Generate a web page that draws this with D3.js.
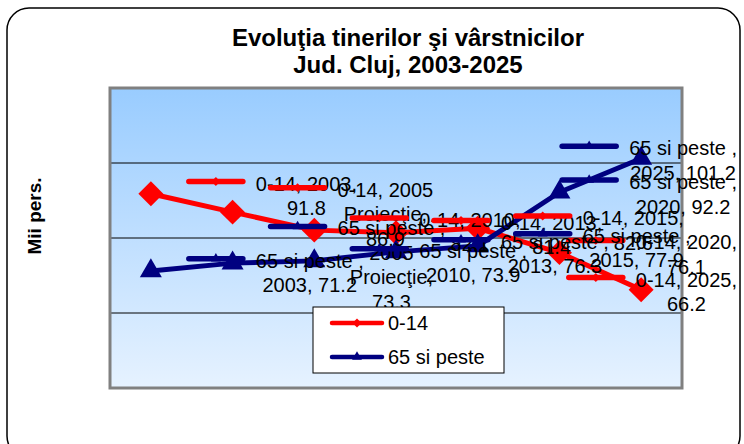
<!DOCTYPE html>
<html>
<head>
<meta charset="UTF-8">
<title>Evoluţia tinerilor şi vârstnicilor</title>
<script src="https://cdn.jsdelivr.net/npm/d3@7"></script>
<style>
  body { margin: 0; background: #fff; }
  svg { display: block; font-family: "Liberation Sans", Arial, sans-serif; }
  .lbl { font-size: 20px; fill: #000; }
  .titlu { font-size: 24px; font-weight: bold; fill: #000; }
</style>
</head>
<body>
<div id="graphe"></div>
<script>
// date (mii persoane)
var ani = ["2003", "2005 Proiecţie", "2010", "2013", "2015", "2020", "2025"];
var tineri = [91.8, 86.9, 82.1, 81.4, 82.6, 76.1, 66.2];
var varstnici = [71.2, 73.3, 73.9, 76.3, 77.9, 92.2, 101.2];
var yTicks = [40, 60, 80, 100, 120];

var serii = [
  {name: "0-14", values: tineri, color: "#ff0000", marker: "diamond"},
  {name: "65 si peste ", values: varstnici, color: "#000080", marker: "triangle"}
];

var width = 744, height = 444;
var plot = {left: 110, right: 682, top: 88, bottom: 388};

var svg = d3.select("#graphe").append("svg")
    .attr("width", width)
    .attr("height", height);

var defs = svg.append("defs");
var grad = defs.append("linearGradient")
    .attr("id", "fundal")
    .attr("x1", 0).attr("y1", 0).attr("x2", 0).attr("y2", 1);
grad.append("stop").attr("offset", "0%").attr("stop-color", "#99ccff");
grad.append("stop").attr("offset", "100%").attr("stop-color", "#e6f2ff");

// chenarul graficului
svg.append("rect")
    .attr("x", 7).attr("y", 8)
    .attr("width", 733).attr("height", 450)
    .attr("rx", 22).attr("ry", 22)
    .attr("fill", "#fff")
    .attr("stroke", "#000")
    .attr("stroke-width", 1.5);

var x = d3.scaleBand().domain(ani).range([plot.left, plot.right]);
var y = d3.scaleLinear().domain([40, 120]).range([plot.bottom, plot.top]);
function cx(d) { return x(d) + x.bandwidth() / 2; }

// zona de plotare
svg.append("rect")
    .attr("x", plot.left).attr("y", plot.top)
    .attr("width", plot.right - plot.left)
    .attr("height", plot.bottom - plot.top)
    .attr("fill", "url(#fundal)");

svg.append("g").selectAll("line")
    .data(yTicks)
    .enter().append("line")
    .attr("x1", plot.left).attr("x2", plot.right)
    .attr("y1", function(d) { return y(d); })
    .attr("y2", function(d) { return y(d); })
    .attr("stroke", "#000")
    .attr("stroke-width", 1);

svg.append("rect")
    .attr("x", plot.left).attr("y", plot.top)
    .attr("width", plot.right - plot.left)
    .attr("height", plot.bottom - plot.top)
    .attr("fill", "none")
    .attr("stroke", "#808080")
    .attr("stroke-width", 3);

function simbol(tip, mare) {
  if (tip === "diamond") {
    return {d: d3.symbol(d3.symbolSquare, mare ? 312 : 40)(), rot: 45};
  }
  return {d: d3.symbol(d3.symbolTriangle, mare ? 210 : 42)(), rot: 0};
}

// liniile seriilor
var line = d3.line()
    .x(function(d, i) { return cx(ani[i]); })
    .y(function(d) { return y(d); });

serii.forEach(function(s) {
  svg.append("path")
      .datum(s.values)
      .attr("d", line)
      .attr("fill", "none")
      .attr("stroke", s.color)
      .attr("stroke-width", 5)
      .attr("stroke-linejoin", "round");

  var m = simbol(s.marker, true);
  svg.append("g").selectAll("path")
      .data(s.values)
      .enter().append("path")
      .attr("d", m.d)
      .attr("fill", s.color)
      .attr("transform", function(d, i) {
        return "translate(" + cx(ani[i]) + "," + y(d) + ") rotate(" + m.rot + ")";
      });
});

// etichetele de date (cu cheia legendei), ca in Excel
var masura = svg.append("text").attr("class", "lbl").attr("visibility", "hidden");
function lat(t) { masura.text(t); return masura.node().getComputedTextLength(); }

function imparte(text, max) {
  var cuv = text.split(" "), randuri = [], r = "";
  cuv.forEach(function(c) {
    var test = r ? r + " " + c : c;
    if (r && lat(test) > max) { randuri.push(r); r = c; }
    else r = test;
  });
  if (r) randuri.push(r);
  return randuri;
}

var fmt = d3.format(".1f");
var lineH = 24.5, keyW = 60, gap = 10, dreapta = 737;
var etichete = svg.append("g");

serii.forEach(function(s) {
  s.values.forEach(function(v, i) {
    var px = cx(ani[i]), py = y(v);
    var randuri = imparte(s.name + ", " + ani[i] + ", " + fmt(v), 115);
    var tw = d3.max(randuri, lat);
    var left = px + 35;
    if (left + keyW + gap + tw > dreapta) left = dreapta - keyW - gap - tw;
    var y0 = py + 2 - (randuri.length - 1) * lineH / 2;
    var g = etichete.append("g");
    g.append("line")
        .attr("x1", left + 3).attr("x2", left + keyW - 3)
        .attr("y1", y0 - 2).attr("y2", y0 - 2)
        .attr("stroke", s.color)
        .attr("stroke-width", 5.5)
        .attr("stroke-linecap", "round");
    var m = simbol(s.marker, false);
    g.append("path")
        .attr("d", m.d)
        .attr("fill", s.color)
        .attr("transform", "translate(" + (left + keyW / 2) + "," + (y0 - 2) + ") rotate(" + m.rot + ")");
    var tc = left + keyW + gap + tw / 2;
    g.selectAll("text")
        .data(randuri)
        .enter().append("text")
        .attr("class", "lbl")
        .attr("x", tc)
        .attr("y", function(d, k) { return y0 + k * lineH + 7; })
        .attr("text-anchor", "middle")
        .text(function(d) { return d; });
  });
});

// titlu
svg.append("text").attr("class", "titlu")
    .attr("x", 408).attr("y", 46)
    .attr("text-anchor", "middle")
    .text("Evoluţia tinerilor şi vârstnicilor");
svg.append("text").attr("class", "titlu")
    .attr("x", 408).attr("y", 73)
    .attr("text-anchor", "middle")
    .text("Jud. Cluj, 2003-2025");

svg.append("text")
    .attr("transform", "translate(41,216) rotate(-90)")
    .attr("text-anchor", "middle")
    .style("font-size", "19px")
    .style("font-weight", "bold")
    .text("Mii pers.");

// legenda
var leg = svg.append("g").attr("transform", "translate(313,307)");
leg.append("rect")
    .attr("width", 191).attr("height", 66)
    .attr("fill", "#fff")
    .attr("stroke", "#000")
    .attr("stroke-width", 1);
serii.forEach(function(s, i) {
  var ly = 16 + i * 34;
  leg.append("line")
      .attr("x1", 19).attr("x2", 69)
      .attr("y1", ly).attr("y2", ly)
      .attr("stroke", s.color)
      .attr("stroke-width", 4.5)
      .attr("stroke-linecap", "round");
  var m = simbol(s.marker, false);
  leg.append("path")
      .attr("d", m.d)
      .attr("fill", s.color)
      .attr("transform", "translate(44," + ly + ") rotate(" + m.rot + ")");
  leg.append("text")
      .attr("class", "lbl")
      .attr("x", 75).attr("y", ly + 7)
      .text(s.name.trim());
});
</script>
</body>
</html>
